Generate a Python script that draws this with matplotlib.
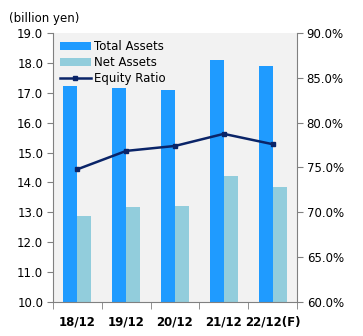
import numpy as np
import matplotlib.pyplot as plt
from matplotlib.lines import Line2D
from matplotlib.patches import Patch

# Datos
years = ["18/12", "19/12", "20/12", "21/12", "22/12(F)"]
total_assets = [17.22, 17.16, 17.09, 18.1, 17.9]
net_assets = [12.88, 13.18, 13.21, 14.22, 13.85]
equity_ratio = [74.8, 76.85, 77.4, 78.75, 77.6]

c_total = "#1F9BFF"
c_net = "#92CDDC"
c_line = "#0A2468"
c_axis = "#808080"

fig = plt.figure(figsize=(3.63, 3.36), dpi=100)
ax = fig.add_axes([0.146, 0.101, 0.672, 0.801])
ax.set_facecolor("#F2F2F2")

x = np.arange(len(years))
w = 0.287
ax.bar(x - w / 2, np.array(total_assets) - 10, w, bottom=10, color=c_total, zorder=2)
ax.bar(x + w / 2, np.array(net_assets) - 10, w, bottom=10, color=c_net, zorder=2)

ax.set_xlim(-0.5, len(years) - 0.5)
ax.set_ylim(10, 19)
ax.set_yticks(np.arange(10, 19.01, 1))
ax.set_yticklabels([f"{v:.1f}" for v in np.arange(10, 19.01, 1)], fontsize=8.5)
ax.set_xticks(x)
ax.set_xticklabels(years, fontsize=8.5, fontweight="bold")
ax.tick_params(axis="x", length=0, pad=10)
ax.set_xticks(np.arange(-0.5, len(years), 1), minor=True)
ax.tick_params(axis="x", which="minor", length=5, color=c_axis)
ax.tick_params(axis="y", length=4, color=c_axis, pad=3)

for s in ["top", "right"]:
    ax.spines[s].set_visible(False)
for s in ["left", "bottom"]:
    ax.spines[s].set_color(c_axis)

ax2 = ax.twinx()
ax2.plot(x, equity_ratio, color=c_line, lw=1.8, marker="s", ms=3.5, zorder=3)
ax2.set_ylim(60, 90)
ax2.set_yticks(np.arange(60, 90.1, 5))
ax2.set_yticklabels([f"{v:.1f}%" for v in np.arange(60, 90.1, 5)], fontsize=8.5)
ax2.tick_params(axis="y", length=4, color=c_axis, pad=3)
for s in ["top", "left", "bottom"]:
    ax2.spines[s].set_visible(False)
ax2.spines["right"].set_color(c_axis)

handles = [
    Patch(facecolor=c_total, label="Total Assets"),
    Patch(facecolor=c_net, label="Net Assets"),
    Line2D([0], [0], color=c_line, lw=1.8, marker="s", ms=3, label="Equity Ratio"),
]
ax2.legend(handles=handles, loc="upper left", frameon=False, fontsize=8.5,
           handlelength=2.6, handleheight=0.6, handletextpad=0.3,
           labelspacing=0.25, borderaxespad=0.2)

fig.text(0.025, 0.935, "(billion yen)", fontsize=8.5)

fig.savefig("out.png", dpi=100)
